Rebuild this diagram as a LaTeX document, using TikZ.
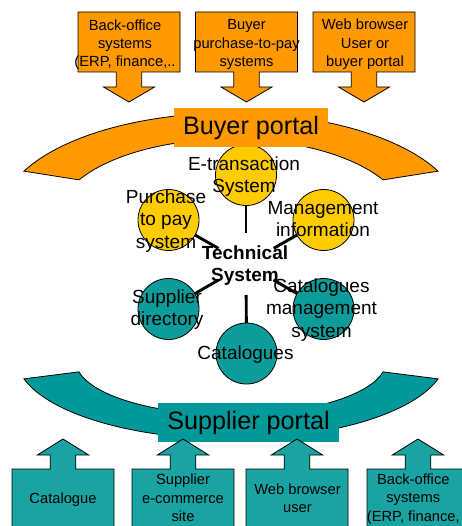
\documentclass[tikz,border=0pt]{standalone}
\usepackage{fontspec}
\setmainfont{Liberation Sans}
\usetikzlibrary{shapes.geometric}
\definecolor{porange}{HTML}{FF9900}
\definecolor{pyellow}{HTML}{FFCC00}
\definecolor{pteal}{HTML}{009999}
\definecolor{pcteal}{HTML}{0C9C9C}
\definecolor{pbteal}{HTML}{1AA3A3}
\begin{document}
\begin{tikzpicture}[x=1pt,y=-1pt,
 shapeline/.style={draw=black,line width=0.8pt,line join=miter},
 boxtext/.style={font=\fontsize{14.7}{18.3}\selectfont,align=center,inner sep=0pt},
 circtext/.style={font=\fontsize{19}{22.5}\selectfont,align=center,inner sep=0pt},
 hubtext/.style={font=\fontsize{19}{22}\selectfont\bfseries,align=center,inner sep=0pt},
 yball/.style={circle,fill=pyellow,shapeline,minimum size=61pt,inner sep=0pt,outer sep=0pt},
 tball/.style={circle,fill=pcteal,shapeline,minimum size=61pt,inner sep=0pt,outer sep=0pt},
 conn/.style={draw=black,line width=2.9pt},
 portal/.style={font=\fontsize{25.2}{30}\selectfont,inner sep=0pt,minimum height=39pt}]
\useasboundingbox (0,0) rectangle (461,526);
\fill[white] (0,0) rectangle (461,526);
% top callouts
\foreach \cx in {129,246.5,364}{
 \draw[shapeline,fill=porange] ({\cx-51},12) -- ({\cx+51},12) -- ({\cx+51},72) -- ({\cx+12.7},72) -- ({\cx+12.7},87) -- ({\cx+25.5},87) -- (\cx,102) -- ({\cx-25.5},87) -- ({\cx-12.7},87) -- ({\cx-12.7},72) -- ({\cx-51},72) -- cycle;
}
\node[boxtext] (bo1) at (125,44.5) {Back-office\\systems\\(ERP, finance,..};
\node[boxtext] (bp2) at (246.5,44.5) {Buyer\\purchase-to-pay\\systems};
\node[boxtext] (wb3) at (365,44.5) {Web browser\\User or\\buyer portal};
% orange arc
\draw[shapeline,fill=porange] plot[domain=25.8:154.2,samples=80] ({231-230*cos(\x)},{216-103*sin(\x)})
  -- plot[domain=29.7:150.3,samples=80] ({231+175*cos(\x)},{220-81*sin(\x)}) -- cycle;
% hub and circles
\node[ellipse,minimum width=64pt,minimum height=62pt,inner sep=0pt,outer sep=0pt] (hub) at (246,264) {};
\node[yball] (etx) at (246,175) {};
\node[yball] (ptp) at (168.5,220) {};
\node[yball] (mgi) at (323.5,220) {};
\node[tball] (sdir) at (168.5,309) {};
\node[tball] (cms) at (323.5,309) {};
\node[tball] (cat) at (246.5,353.5) {};
\foreach \n in {etx,ptp,mgi,sdir,cms,cat}{\draw[conn] (\n) -- (hub);}
\node[portal,fill=porange,minimum width=154pt] (bportal) at (251,127.5) {Buyer portal};
\node[circtext] (etxl) at (244,176.7) {E-transaction\\System};
\node[circtext] (ptpl) at (166,220.6) {Purchase\\to pay\\system};
\node[circtext] (mgil) at (323,219) {Management\\information};
\node[circtext] (sdirl) at (167,309.5) {Supplier\\directory};
\node[circtext] (cmsl) at (321.5,310) {Catalogues\\management\\system};
\node[circtext] (catl) at (245.5,355) {Catalogues};
\node[hubtext] (techl) at (245,266) {Technical\\System};
% teal arc
\draw[shapeline,fill=pteal] plot[domain=15.6:164.4,samples=80] ({231-215*cos(\x)},{356.7+82.4*sin(\x)})
  -- plot[domain=11.3:168.7,samples=80] ({231+155*cos(\x)},{361.4+53.4*sin(\x)}) -- cycle;
\node[portal,fill=pteal,minimum width=181pt] (sportal) at (248.5,422.5) {Supplier portal};
% bottom callouts
\foreach \cx in {63,183,297,418}{
 \draw[shapeline,fill=pbteal] ({\cx-51},535) -- ({\cx-51},469) -- ({\cx-12.8},469) -- ({\cx-12.8},455) -- ({\cx-25.7},455) -- (\cx,439) -- ({\cx+25.7},455) -- ({\cx+12.8},455) -- ({\cx+12.8},469) -- ({\cx+51},469) -- ({\cx+51},535) -- cycle;
}
\node[boxtext] (catb) at (63,499.5) {Catalogue};
\node[boxtext] (secb) at (183,498) {Supplier\\e-commerce\\site};
\node[boxtext] (wbb) at (297.5,498) {Web browser\\user};
\node[boxtext] (bob) at (413.3,499) {Back-office\\systems\\(ERP, finance,};
\end{tikzpicture}
\end{document}
